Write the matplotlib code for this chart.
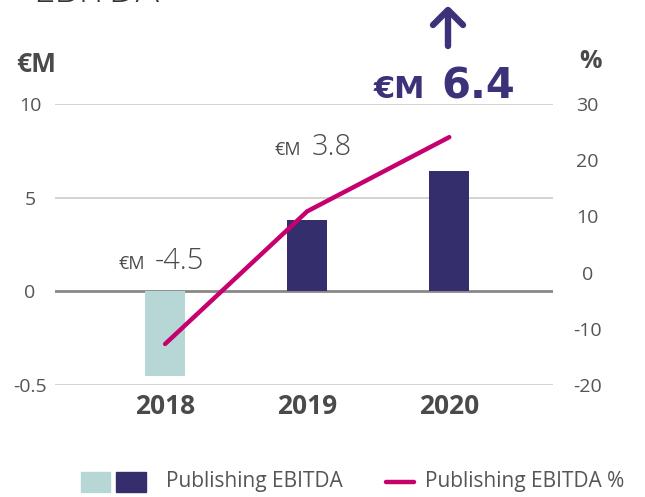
import matplotlib
matplotlib.use('Agg')
import matplotlib.pyplot as plt
from matplotlib.lines import Line2D
from matplotlib.patches import Rectangle

# ---- data ----
years = ['2018', '2019', '2020']
ebitda = [-4.5, 3.8, 6.4]                 # €M
ebitda_pct = [-12.7, 10.9, 24.1]          # %
value_labels = ['-4.5', '3.8', '6.4']
left_ticks = [-5, 0, 5, 10]
left_tick_labels = ['-0.5', '0', '5', '10']
right_ticks = [-20, -10, 0, 10, 20, 30]
right_tick_labels = ['-20', '-10', '0', '10', '20', '30']
bar_colors = ['#b7d7d6', '#352e6c', '#352e6c']
legend_labels = ['Publishing EBITDA', 'Publishing EBITDA %']

NAVY = '#352e6c'
NAVY_TXT = '#3b3279'
MAGENTA = '#c6006f'
GRAY = '#4a4a4a'
FONT = 'Open Sans'

W, H = 645, 497
fig = plt.figure(figsize=(W / 100, H / 100), dpi=100)

def fx(x):
    return x / W

def fy(y):
    return 1 - y / H

ax = fig.add_axes([fx(55), fy(385), fx(553) - fx(55), fy(104) - fy(385)])
ax2 = ax.twinx()

x = list(range(len(years)))
ax.bar(x, ebitda, width=0.28, color=bar_colors, zorder=3)
ax.set_ylim(-5, 10)
ax.set_xlim(-0.775, 2.73)

# grid lines
for t in left_ticks:
    ax.axhline(t, color='#888888' if t == 0 else '#d2d2d2',
               lw=2.0 if t == 0 else 1.4, zorder=1)

ax.set_yticks(left_ticks)
ax.set_yticklabels(left_tick_labels, fontsize=14, color='#555555', family=FONT)
for lab in ax.get_yticklabels():
    lab.set_horizontalalignment('center')
ax.tick_params(axis='y', length=0, pad=18)

ax.set_xticks(x)
ax.set_xticklabels(years, fontsize=19, fontweight='bold', color=GRAY, family=FONT)
ax.tick_params(axis='x', length=0, pad=5.5)

for s in ax.spines.values():
    s.set_visible(False)
for s in ax2.spines.values():
    s.set_visible(False)

# line on right axis
ax2.plot(x, ebitda_pct, color=MAGENTA, lw=3.2, solid_capstyle='round',
         solid_joinstyle='round', zorder=5)
ax2.set_ylim(-20, 30)
ax2.set_yticks(right_ticks)
ax2.set_yticklabels(right_tick_labels, fontsize=14, color='#555555', family=FONT)
for lab in ax2.get_yticklabels():
    lab.set_horizontalalignment('center')
ax2.tick_params(axis='y', length=0, pad=25)

# value annotations (€M prefix + number)
ann_y = [1.18, 7.26, 10.3]
split_px = [-15, -1, -16]
small_sizes = [13, 13, 22]
num_sizes = [21, 21, 30]
weights = ['light', 'light', 'bold']
colors = [GRAY, GRAY, NAVY_TXT]
fams = [FONT, FONT, 'DejaVu Sans']
for i in range(len(years)):
    gap = 5 if i < 2 else 8
    ax.annotate('€M', xy=(x[i], ann_y[i]), xytext=(split_px[i] - gap, 0),
                textcoords='offset pixels', ha='right', va='baseline',
                fontsize=small_sizes[i], color=colors[i], family=fams[i],
                fontweight='normal' if i < 2 else 'semibold', annotation_clip=False)
    ax.annotate(value_labels[i], xy=(x[i], ann_y[i]), xytext=(split_px[i] + gap, 0),
                textcoords='offset pixels', ha='left', va='baseline',
                fontsize=num_sizes[i], color=colors[i], family=fams[i],
                fontweight=weights[i], annotation_clip=False)

# axis unit labels
fig.text(fx(16), fy(64), '€M', fontsize=19, fontweight='bold', color=GRAY,
         family=FONT, ha='left', va='center')
fig.text(fx(591), fy(62), '%', fontsize=18, fontweight='bold', color=GRAY,
         family=FONT, ha='center', va='center')

# clipped title at very top
fig.text(fx(33), fy(2.5), 'EBITDA', fontsize=28, fontweight='light', color='#333333',
         family=FONT, ha='left', va='baseline')

# up arrow above 2020
lw_arrow = 4.6
fig.add_artist(Line2D([fx(448), fx(448)], [fy(46), fy(11)], color=NAVY_TXT,
                      lw=lw_arrow, solid_capstyle='round'))
fig.add_artist(Line2D([fx(433), fx(448), fx(463)], [fy(25), fy(10), fy(25)],
                      color=NAVY_TXT, lw=lw_arrow, solid_capstyle='round',
                      solid_joinstyle='round'))

# manual legend
fig.add_artist(Rectangle((fx(81), fy(492)), fx(110) - fx(81), fy(472) - fy(492),
                         color=bar_colors[0], transform=fig.transFigure))
fig.add_artist(Rectangle((fx(116), fy(492)), fx(146) - fx(116), fy(472) - fy(492),
                         color=bar_colors[1], transform=fig.transFigure))
fig.text(fx(166), fy(482), legend_labels[0], fontsize=15, color='#555555',
         family=FONT, ha='left', va='center')
fig.add_artist(Line2D([fx(386), fx(414)], [fy(482), fy(482)], color=MAGENTA,
                      lw=3.2, solid_capstyle='round'))
fig.text(fx(425), fy(482), legend_labels[1], fontsize=15, color='#555555',
         family=FONT, ha='left', va='center')

fig.savefig('out.png', dpi=100)
